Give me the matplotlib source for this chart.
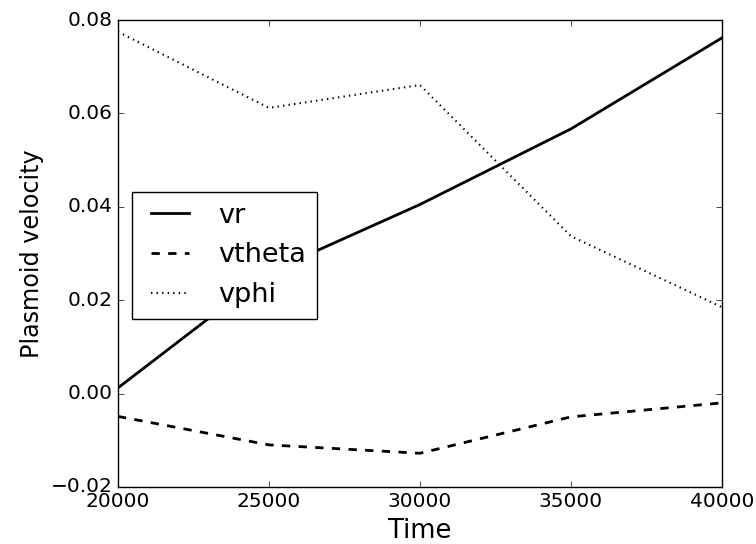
import matplotlib
matplotlib.use("Agg")
import matplotlib.pyplot as plt

# values
time = [20000, 25000, 30000, 35000, 40000]
vr = [0.0012, 0.026, 0.0405, 0.0567, 0.0762]
vtheta = [-0.0049, -0.0110, -0.0128, -0.0050, -0.0020]
vphi = [0.0775, 0.0612, 0.0661, 0.0337, 0.0185]

plt.style.use("classic")

fig = plt.figure(figsize=(7.56, 5.44), dpi=100)
ax = fig.add_axes([0.156, 0.105, 0.799, 0.858])

ax.plot(time, vr, "k-", lw=2.0, label="vr")
ax.plot(time, vtheta, "k--", lw=2.0, label="vtheta")
ax.plot(time, vphi, "k:", lw=1.5, label="vphi")

ax.set_xlim(20000, 40000)
ax.set_ylim(-0.02, 0.08)
ax.set_xticks([20000, 25000, 30000, 35000, 40000])
ax.set_yticks([-0.02, 0.0, 0.02, 0.04, 0.06, 0.08])
ax.tick_params(labelsize=14.5)
ax.set_xlabel("Time", fontsize=18.5)
ax.set_ylabel("Plasmoid velocity", fontsize=17.2)

ax.legend(loc=(0.023, 0.36), fontsize=19.5, numpoints=2)

fig.savefig("out.png", dpi=100, facecolor="white")
